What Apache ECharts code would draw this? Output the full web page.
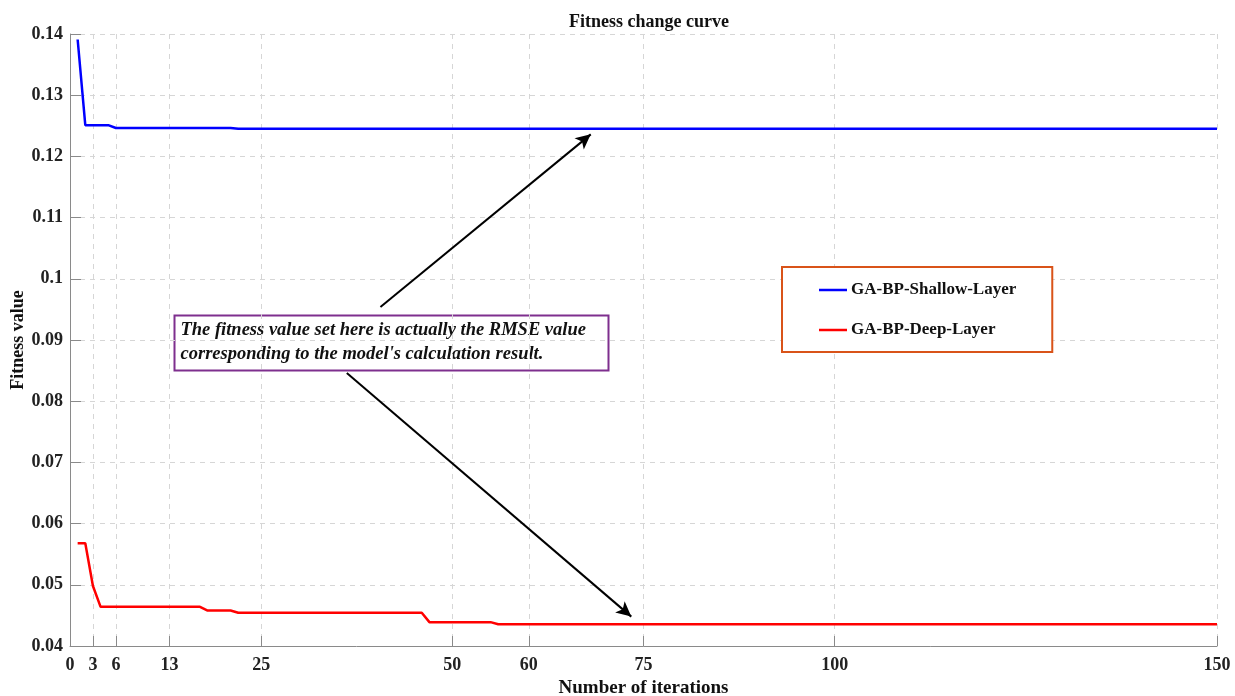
<!DOCTYPE html>
<html>
<head>
<meta charset="utf-8">
<script src="https://cdn.jsdelivr.net/npm/echarts@6/dist/echarts.min.js"></script>
<style>
html,body{margin:0;padding:0;background:#fff;}
#chart{width:1235px;height:696px;}
</style>
</head>
<body>
<div id="chart"></div>
<script>
// ---- data ----
const iterations = [1, 2, 3, 4, 5, 6, 17, 18, 21, 22, 46, 47, 55, 56, 150];
const shallowLayer = [0.1391, 0.1251, 0.1251, 0.1251, 0.1251, 0.12464, 0.12464, 0.12464, 0.12464, 0.1245, 0.1245, 0.1245, 0.1245, 0.1245, 0.1245];
const deepLayer = [0.0568, 0.0568, 0.0498, 0.0464, 0.0464, 0.0464, 0.0464, 0.0458, 0.0458, 0.04544, 0.04544, 0.0439, 0.0439, 0.04355, 0.04355];
const xTickValues = [0, 3, 6, 13, 25, 50, 60, 75, 100, 150];
const seriesNames = ['GA-BP-Shallow-Layer', 'GA-BP-Deep-Layer'];
const titleText = 'Fitness change curve';
const xAxisName = 'Number of iterations';
const yAxisName = 'Fitness value';
const noteLines = ['The fitness value set here is actually the RMSE value', "corresponding to the model's calculation result."];
// arrows: [x, y] in data space
const arrowUpFrom = [40.6, 0.0954];
const arrowUpTo = [68.1, 0.1236];
const arrowDownFrom = [36.2, 0.0846];
const arrowDownTo = [73.4, 0.0448];

const FONT = '"Liberation Serif", "Times New Roman", serif';
const AXIS_COLOR = '#8a8a8a';
const GRID_COLOR = '#d6d6d6';

const chart = echarts.init(document.getElementById('chart'), null, {renderer: 'canvas'});
const pair = (ys) => iterations.map((x, i) => [x, ys[i]]);

chart.setOption({
  animation: false,
  backgroundColor: '#fff',
  textStyle: {fontFamily: FONT},
  title: {
    text: titleText,
    left: 644, top: 8, textAlign: 'center',
    textStyle: {fontFamily: FONT, fontWeight: 'bold', fontSize: 18, color: '#111'}
  },
  grid: {left: 70, right: 18, top: 34, bottom: 50, containLabel: false, outerBoundsMode: 'none'},
  legend: {
    data: seriesNames,
    orient: 'vertical',
    left: 782, top: 267,
    icon: 'rect',
    itemWidth: 28, itemHeight: 2.5,
    itemGap: 20,
    padding: [13, 36, 12, 37],
    backgroundColor: '#fff',
    borderColor: '#D95319',
    borderWidth: 2,
    borderRadius: 0,
    textStyle: {fontFamily: FONT, fontWeight: 'bold', fontSize: 17, color: '#111', lineHeight: 20, padding: [0,0,0,-1]}
  },
  xAxis: {
    type: 'value', min: 0, max: 150,
    name: xAxisName, nameLocation: 'middle', nameGap: 31,
    nameTextStyle: {fontFamily: FONT, fontWeight: 'bold', fontSize: 19, color: '#111'},
    axisLine: {show: true, onZero: false, lineStyle: {color: AXIS_COLOR, width: 1}},
    axisTick: {show: true, inside: true, length: 10, customValues: xTickValues, lineStyle: {color: AXIS_COLOR}},
    axisLabel: {customValues: xTickValues, margin: 10, fontFamily: FONT, fontWeight: 'bold', fontSize: 18, color: '#222'},
    splitLine: {show: true, lineStyle: {color: GRID_COLOR, type: [5, 5], width: 1}}
  },
  yAxis: {
    type: 'value', min: 0.04, max: 0.14, interval: 0.01,
    name: yAxisName, nameLocation: 'middle', nameGap: 43, nameRotate: 90, nameMoveOverlap: false,
    nameTextStyle: {fontFamily: FONT, fontWeight: 'bold', fontSize: 18, color: '#111'},
    axisLine: {show: true, lineStyle: {color: AXIS_COLOR, width: 1}},
    axisTick: {show: true, inside: true, length: 11, lineStyle: {color: AXIS_COLOR}},
    axisLabel: {margin: 7, fontFamily: FONT, fontWeight: 'bold', fontSize: 18, color: '#222',
      formatter: (v) => String(parseFloat(v.toFixed(4)))},
    splitLine: {show: true, lineStyle: {color: GRID_COLOR, type: [5, 5], width: 1}}
  },
  series: [
    {
      name: seriesNames[0], type: 'line', data: pair(shallowLayer),
      showSymbol: false, symbol: 'none',
      lineStyle: {color: '#0000FF', width: 2.5}, itemStyle: {color: '#0000FF'},
      markLine: {
        silent: true, animation: false,
        symbol: ['none', 'arrow'], symbolSize: [11, 15],
        label: {show: false},
        lineStyle: {color: '#000', width: 2, type: 'solid'},
        data: [
          [{coord: arrowUpFrom}, {coord: arrowUpTo}],
          [{coord: arrowDownFrom}, {coord: arrowDownTo}]
        ]
      }
    },
    {
      name: seriesNames[1], type: 'line', data: pair(deepLayer),
      showSymbol: false, symbol: 'none',
      lineStyle: {color: '#FF0000', width: 2.5}, itemStyle: {color: '#FF0000'}
    }
  ],
  graphic: [
    {
      type: 'group', left: 172, top: 313,
      children: [
        {type: 'rect', shape: {x: 0, y: 0, width: 434, height: 55},
          style: {fill: 'none', stroke: '#7E2F8E', lineWidth: 2}},
        {type: 'text', x: 6, y: 3,
          style: {text: noteLines.join('\n'), fill: '#111',
            font: 'italic bold 18.5px ' + FONT, lineHeight: 24}}
      ]
    }
  ]
});
</script>
</body>
</html>
